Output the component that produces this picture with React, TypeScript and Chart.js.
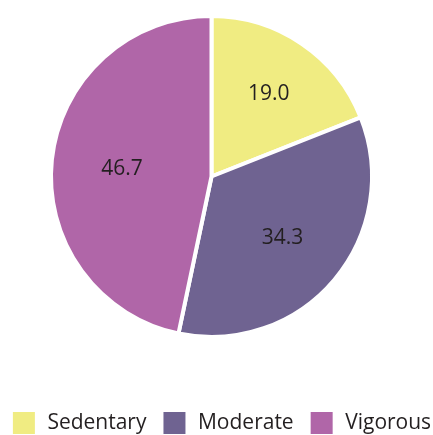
import { useEffect, useRef } from "react";
import { Chart, registerables } from "chart.js";

Chart.register(...registerables);

const categories = ["Sedentary", "Moderate", "Vigorous"];
const values = [19.0, 34.3, 46.7];
const valueLabels = ["19.0", "34.3", "46.7"];
const colors = ["#f0ec82", "#6f6391", "#b066a8"];
const labelRadius = [0.635, 0.578, 0.561];

const TEXT = "#231f20";
const FONT = '"Open Sans", "Noto Sans", sans-serif';
const LABEL_SIZE = 21;

const CANVAS_W = 470;
const CANVAS_H = 446;
const SHIFT_X = 14;

const sliceLabels = {
  id: "sliceLabels",
  afterDatasetsDraw(chart: any) {
    const meta = chart.getDatasetMeta(0);
    const ctx = chart.ctx;
    ctx.save();
    ctx.font = `${LABEL_SIZE}px ${FONT}`;
    ctx.fillStyle = TEXT;
    ctx.textAlign = "center";
    ctx.textBaseline = "alphabetic";
    meta.data.forEach((arc: any, i: number) => {
      const { x, y, startAngle, endAngle, outerRadius } = arc.getProps(
        ["x", "y", "startAngle", "endAngle", "outerRadius"],
        true
      );
      const mid = (startAngle + endAngle) / 2;
      const r = outerRadius * labelRadius[i];
      ctx.fillText(
        valueLabels[i],
        x + Math.cos(mid) * r,
        y + Math.sin(mid) * r + LABEL_SIZE * 0.36
      );
    });
    ctx.restore();
  },
};

export default function App() {
  const ref = useRef<HTMLCanvasElement>(null);
  useEffect(() => {
    if (!ref.current) return;
    const chart = new Chart(ref.current, {
      type: "pie",
      data: {
        labels: categories,
        datasets: [
          {
            data: values,
            backgroundColor: colors,
            borderColor: "#ffffff",
            borderWidth: 4,
          },
        ],
      },
      options: {
        responsive: false,
        animation: false,
        devicePixelRatio: 1,
        layout: { padding: { top: 14, left: 0, right: 0, bottom: 0 } },
        plugins: {
          tooltip: { enabled: false },
          title: {
            display: true,
            position: "right",
            fullSize: false,
            text: "",
            padding: { top: 0, bottom: 0 },
            font: { size: 19, lineHeight: 1 },
          },
          legend: {
            position: "bottom",
            align: "center",
            title: {
              display: true,
              text: "",
              font: { size: 12, lineHeight: 1 },
              padding: { top: 44, bottom: 0 },
            },
            labels: {
              boxWidth: 26,
              boxHeight: 26,
              padding: 15,
              color: TEXT,
              font: { family: FONT, size: 21 },
            },
          },
        },
      },
      plugins: [sliceLabels],
    });
    return () => chart.destroy();
  }, []);
  return (
    <div
      style={{
        position: "fixed",
        left: 0,
        top: 0,
        width: 433,
        height: 435,
        overflow: "hidden",
        background: "#fff",
      }}
    >
      <canvas
        ref={ref}
        width={CANVAS_W}
        height={CANVAS_H}
        style={{ display: "block", marginLeft: -SHIFT_X }}
      />
    </div>
  );
}
